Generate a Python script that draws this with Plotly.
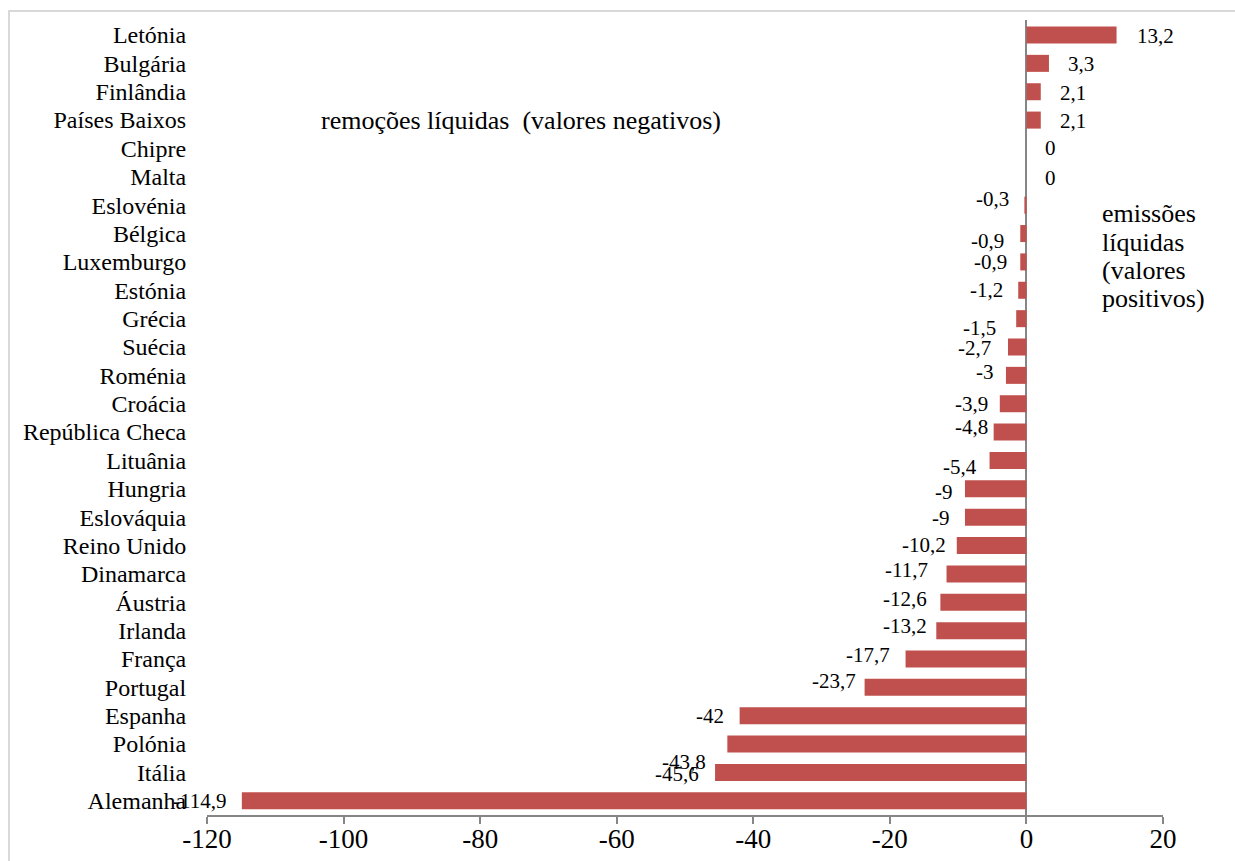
import plotly.graph_objects as go

# ---- data ----
countries = ["Letónia", "Bulgária", "Finlândia", "Países Baixos", "Chipre", "Malta",
             "Eslovénia", "Bélgica", "Luxemburgo", "Estónia", "Grécia", "Suécia",
             "Roménia", "Croácia", "República Checa", "Lituânia", "Hungria", "Eslováquia",
             "Reino Unido", "Dinamarca", "Áustria", "Irlanda", "França", "Portugal",
             "Espanha", "Polónia", "Itália", "Alemanha"]
values = [13.2, 3.3, 2.1, 2.1, 0, 0,
          -0.3, -0.9, -0.9, -1.2, -1.5, -2.7,
          -3, -3.9, -4.8, -5.4, -9, -9,
          -10.2, -11.7, -12.6, -13.2, -17.7, -23.7,
          -42, -43.8, -45.6, -114.9]
x_ticks = [-120, -100, -80, -60, -40, -20, 0, 20]
note_left = "remoções líquidas  (valores negativos)"
note_right_lines = ["emissões", "líquidas", "(valores", "positivos)"]

# ---- label nudges (pixels): gap from bar end, vertical offset (down positive) ----
label_gap = [18, 17, 17, 17, 17, 17,
             13, 14, 11, 13, 18, 15,
             10, 10, 4, 11, 10, 13,
             9, 17, 11, 7, 14, 7,
             14, 19, 14, 14]
label_dy = [1, 1, 1, 1, 0, 1,
            -6, 7, 0, 0, 9, 1,
            -3, 0, -5, 7, 3, 1,
            -1, -4, -3, -5, -4, -6,
            0, 18, 2, 0]

W, H = 1235, 861
L, R, T, B = 207, 72, 20, 46
pw, ph = W - L - R, H - T - B

def fmt(v):
    return ("%g" % v).replace(".", ",")

serif = "Liberation Serif"
bar_color = "#C0504D"

fig = go.Figure(go.Bar(
    x=values, y=countries, orientation="h",
    marker=dict(color=bar_color, line=dict(width=0)),
    hoverinfo="x+y",
))

annotations = []
for c, v, g, dy in zip(countries, values, label_gap, label_dy):
    pos = v >= 0
    annotations.append(dict(x=v, y=c, xref="x", yref="y", text=fmt(v), showarrow=False,
                            xanchor="left" if pos else "right",
                            xshift=g if pos else -g, yshift=-dy,
                            font=dict(family=serif, size=21, color="black")))

annotations.append(dict(x=-74, y=countries[3], xref="x", yref="y",
                        text=note_left, showarrow=False,
                        xanchor="center", yanchor="middle",
                        font=dict(family=serif, size=26, color="black")))
for i, line in enumerate(note_right_lines):
    annotations.append(dict(x=10.8, y=countries[6 + i], xref="x", yref="y",
                            text=line, showarrow=False,
                            xanchor="left", yanchor="middle", yshift=-8.5,
                            font=dict(family=serif, size=26, color="black")))

def px_x(p):
    return (p - L) / pw

def px_y(p):
    return (H - B - p) / ph

fig.update_layout(
    width=W, height=H,
    margin=dict(l=L, r=R, t=T, b=B),
    paper_bgcolor="white", plot_bgcolor="white",
    bargap=0.4,
    showlegend=False,
    annotations=annotations,
    shapes=[dict(type="rect", xref="paper", yref="paper",
                 x0=px_x(9), x1=px_x(1260), y0=px_y(11), y1=px_y(900),
                 line=dict(color="#D9D9D9", width=2), fillcolor="rgba(0,0,0,0)", layer="below")],
    xaxis=dict(range=[-120, 20], tickvals=x_ticks, ticktext=[str(t) for t in x_ticks],
               automargin=False,
               showgrid=False, zeroline=True, zerolinecolor="#868686", zerolinewidth=2,
               showline=True, linecolor="#868686", linewidth=2,
               ticks="outside", ticklen=7, tickcolor="#868686", tickwidth=2,
               ticklabelstandoff=-8,
               tickfont=dict(family=serif, size=27, color="black")),
    yaxis=dict(categoryorder="array", categoryarray=countries, autorange="reversed",
               tickmode="array", tickvals=countries, ticktext=countries,
               automargin=False,
               showgrid=False, zeroline=False, showline=False,
               ticks="outside", ticklen=15, tickcolor="rgba(0,0,0,0)",
               tickfont=dict(family=serif, size=24, color="black")),
)

fig.write_html("out.html")
